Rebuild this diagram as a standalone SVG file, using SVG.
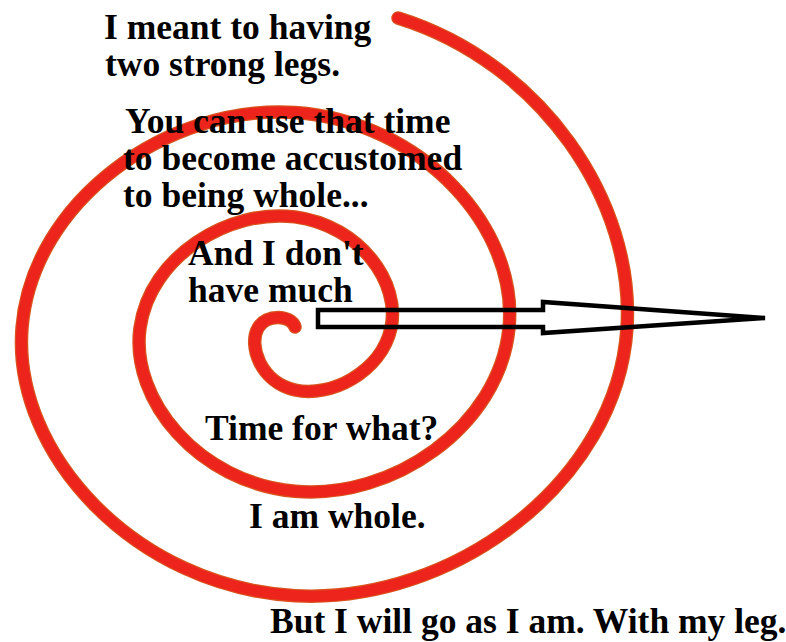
<svg xmlns="http://www.w3.org/2000/svg" width="786" height="642" viewBox="0 0 786 642">
  <style>
    .lbl { font-family: "Liberation Serif", "Times New Roman", serif; font-weight: bold; font-size: 35.5px; fill: #000; }
    .sp-edge { fill: none; stroke: #d9521f; stroke-width: 13.5; stroke-linecap: round; stroke-linejoin: round; }
    .sp-core { fill: none; stroke: #ec241b; stroke-width: 11; stroke-linecap: round; stroke-linejoin: round; }
    .arrow { fill: none; stroke: #000; stroke-width: 4.5; stroke-linejoin: miter; }
  </style>
  <defs>
    <path id="spiralPath" d="M 295 327 C 291.4 315 266.45 313.3 258 328 C 248.17 345.15 260.18 382 295 390 C 329.82 398 381.17 372.48 391 328 C 400.83 283.52 360.71 225.63 295 216.93 C 229.29 208.23 149.83 256.17 140 328 C 130.17 399.83 198.4 482.58 295 491.28 C 391.6 499.98 499.17 427.16 509 328 C 518.83 228.84 422.5 121.2 295 112.5 C 167.5 103.8 31.83 201.5 22 328 C 12.17 454.5 136.61 587 295 595.7 C 453.39 604.4 617.17 481.83 627 328 C 635.04 202.2 542.1 62.8 398 18"/>
  </defs>
  <rect width="786" height="642" fill="#fff"/>
  <g id="spiral">
    <use href="#spiralPath" class="sp-edge"/>
    <use href="#spiralPath" class="sp-core"/>
  </g>
  <g id="connectors">
    <polygon class="arrow" points="318,310 543,310 543,302 765,318 543,333 543,327 318,327"/>
  </g>
  <g id="t1"><text class="lbl" x="104" y="39">I meant to having</text><text class="lbl" x="105" y="76">two strong legs.</text></g>
  <g id="t2"><text class="lbl" x="125" y="133">You can use that time</text><text class="lbl" x="123" y="170">to become accustomed</text><text class="lbl" x="123" y="207">to being whole...</text></g>
  <g id="t3"><text class="lbl" x="188" y="265">And I don't</text><text class="lbl" x="188" y="302">have much</text></g>
  <g id="t4"><text class="lbl" x="205" y="440">Time for what?</text></g>
  <g id="t5"><text class="lbl" x="249" y="528">I am whole.</text></g>
  <g id="t6"><text class="lbl" x="270" y="633">But I will go as I am. With my leg.</text></g>
</svg>
